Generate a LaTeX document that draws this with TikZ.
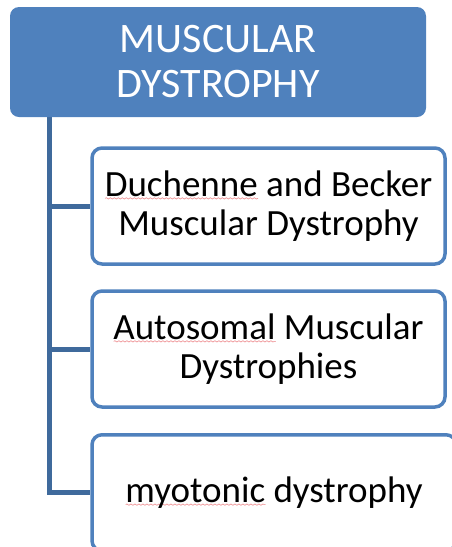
\documentclass[tikz,border=0pt]{standalone}
\usepackage{fontspec}
\setmainfont{Carlito}
\usetikzlibrary{backgrounds,decorations.pathmorphing}
\definecolor{accent}{HTML}{4F81BD}
\definecolor{trunkblue}{HTML}{3F6A9C}
\definecolor{spell}{HTML}{EE8C8F}
\newsavebox{\spellbox}
\newcommand{\spellmark}[1]{%
  \sbox{\spellbox}{#1}%
  \rlap{\raisebox{-3pt}{\tikz[x=1pt,y=1pt,sharp corners,inner sep=0pt]\draw[spell, line width=0.6pt, decorate,
    decoration={snake, amplitude=0.7pt, segment length=4pt}] (0,0) -- (\wd\spellbox,0);}}%
  \usebox{\spellbox}}

\begin{document}
\begin{tikzpicture}[x=1pt, y=-1pt,
    root/.style={rectangle, rounded corners=9pt, fill=accent, text=white,
      minimum width=416pt, minimum height=110pt, align=center,
      font=\fontsize{42}{45}\selectfont},
    leaf/.style={rectangle, rounded corners=10pt, draw=accent, line width=3.5pt,
      fill=white, minimum width=353pt, minimum height=116pt, align=center,
      font=\fontsize{37}{39}\selectfont},
    link/.style={draw=trunkblue, line width=5pt}]
  \useasboundingbox (0,0) rectangle (451,547);

  \node[root] (md) at (218,62) {MUSCULAR\\DYSTROPHY};
  \coordinate (stem) at ([xshift=40pt]md.south west);

  \node[leaf] (dbmd) at (268.5,206) {\spellmark{Duchenne} and Becker\\Muscular Dystrophy};
  \node[leaf] (amd) at (268.5,349) {\spellmark{Autosomal} Muscular\\Dystrophies};
  \node[leaf, minimum width=364pt] (myo) at (274,492.75) {\spellmark{myotonic} dystrophy};

  \begin{scope}[on background layer]
    \draw[link] (stem) |- (myo.west);
    \draw[link] (stem) |- (dbmd.west);
    \draw[link] (stem) |- (amd.west);
  \end{scope}
\end{tikzpicture}
\end{document}
